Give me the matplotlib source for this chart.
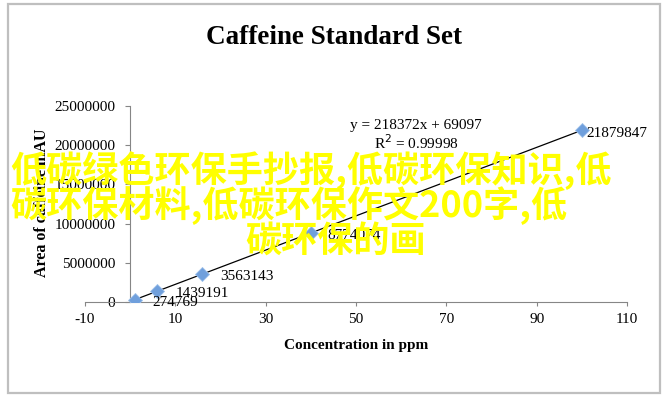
import matplotlib as mpl
mpl.use('Agg')
import matplotlib.pyplot as plt
from matplotlib.patches import Rectangle
import numpy as np

# data
conc = [1, 6, 16, 40, 100]
area = [274769, 1439191, 3563143, 8774074, 21879847]
point_labels = ['274769', '1439191', '3563143', '8774074', '21879847']
slope = 218372
intercept = 69097
r2_text = '0.99998'

x_ticks = [-10, 10, 30, 50, 70, 90, 110]
y_ticks = [0, 5000000, 10000000, 15000000, 20000000, 25000000]

overlay_lines = ['低碳绿色环保手抄报,低碳环保知识,低',
                 '碳环保材料,低碳环保作文200字,低',
                 '碳环保的画']

serif = 'Liberation Serif'
axis_grey = '#868686'

fig = plt.figure(figsize=(6.68, 3.99), dpi=100)
fig.patch.set_facecolor('white')

# chart area border
fig.patches.append(Rectangle((8/668, 6/399), 652/668, 389/399, transform=fig.transFigure,
                             fill=False, edgecolor='#BFBFBF', lw=1.6))

ax = fig.add_axes([85/668, 97/399, 542/668, 196/399])
ax.set_xlim(-10, 110)
ax.set_ylim(0, 25000000)

for s in ['top', 'right']:
    ax.spines[s].set_visible(False)
ax.spines['left'].set_position(('data', 0))
for s in ['left', 'bottom']:
    ax.spines[s].set_color(axis_grey)
    ax.spines[s].set_linewidth(0.8)

ax.set_xticks(x_ticks)
ax.set_yticks(y_ticks)
ax.set_xticklabels([str(v) for v in x_ticks], fontfamily=serif, fontsize=11)
ax.set_yticklabels([str(v) for v in y_ticks], fontfamily=serif, fontsize=11)
ax.tick_params(axis='x', direction='out', length=3, width=0.8, color=axis_grey, pad=5)
ax.tick_params(axis='y', direction='out', length=3.6, width=0.8, color=axis_grey, pad=7)

# linear trendline over the data range
xs = np.array([min(conc), max(conc)])
ax.plot(xs, slope * xs + intercept, color='black', lw=0.9, zorder=2)

ax.plot(conc, area, linestyle='none', marker='D', markersize=7,
        markerfacecolor='#6F9FDC', markeredgecolor='#9DC0EA', markeredgewidth=0.6, zorder=3)

# data labels (the last one sits closer to its marker, as in the original)
label_dx = [13, 13, 13, 12, 3]
for xv, yv, lab, dx in zip(conc, area, point_labels, label_dx):
    ax.annotate(lab, (xv, yv), xytext=(dx, -2), textcoords='offset points',
                ha='left', va='center', fontfamily=serif, fontsize=11, zorder=4)

ax.text(0.611, 0.903, 'y = %dx + %d' % (slope, intercept), transform=ax.transAxes,
        ha='center', va='center', fontfamily=serif, fontsize=11)
ax.text(0.611, 0.811, 'R$^2$ = ' + r2_text, transform=ax.transAxes,
        ha='center', va='center', fontfamily=serif, fontsize=11)

fig.text(334/668, 1 - 37/399, 'Caffeine Standard Set', ha='center', va='center',
         fontfamily=serif, fontweight='bold', fontsize=19.5)
fig.text(356/668, 1 - 345/399, 'Concentration in ppm', ha='center', va='center',
         fontfamily=serif, fontweight='bold', fontsize=11)
fig.text(42/668, 1 - 203/399, 'Area of caffeine mAU', ha='center', va='center',
         rotation=90, fontfamily=serif, fontweight='bold', fontsize=11.5)

# yellow overlay text on top of the chart
line_pos = [(10, 171), (10, 206), (245, 241)]
for txt, (px, py) in zip(overlay_lines, line_pos):
    fig.text(px/668, 1 - py/399, txt, ha='left', va='center', color='#FFFF00',
             fontsize=26, fontweight='bold', family=['Noto Sans CJK SC', 'DejaVu Sans'],
             zorder=10)

fig.savefig('out.png', dpi=100, facecolor='white')
